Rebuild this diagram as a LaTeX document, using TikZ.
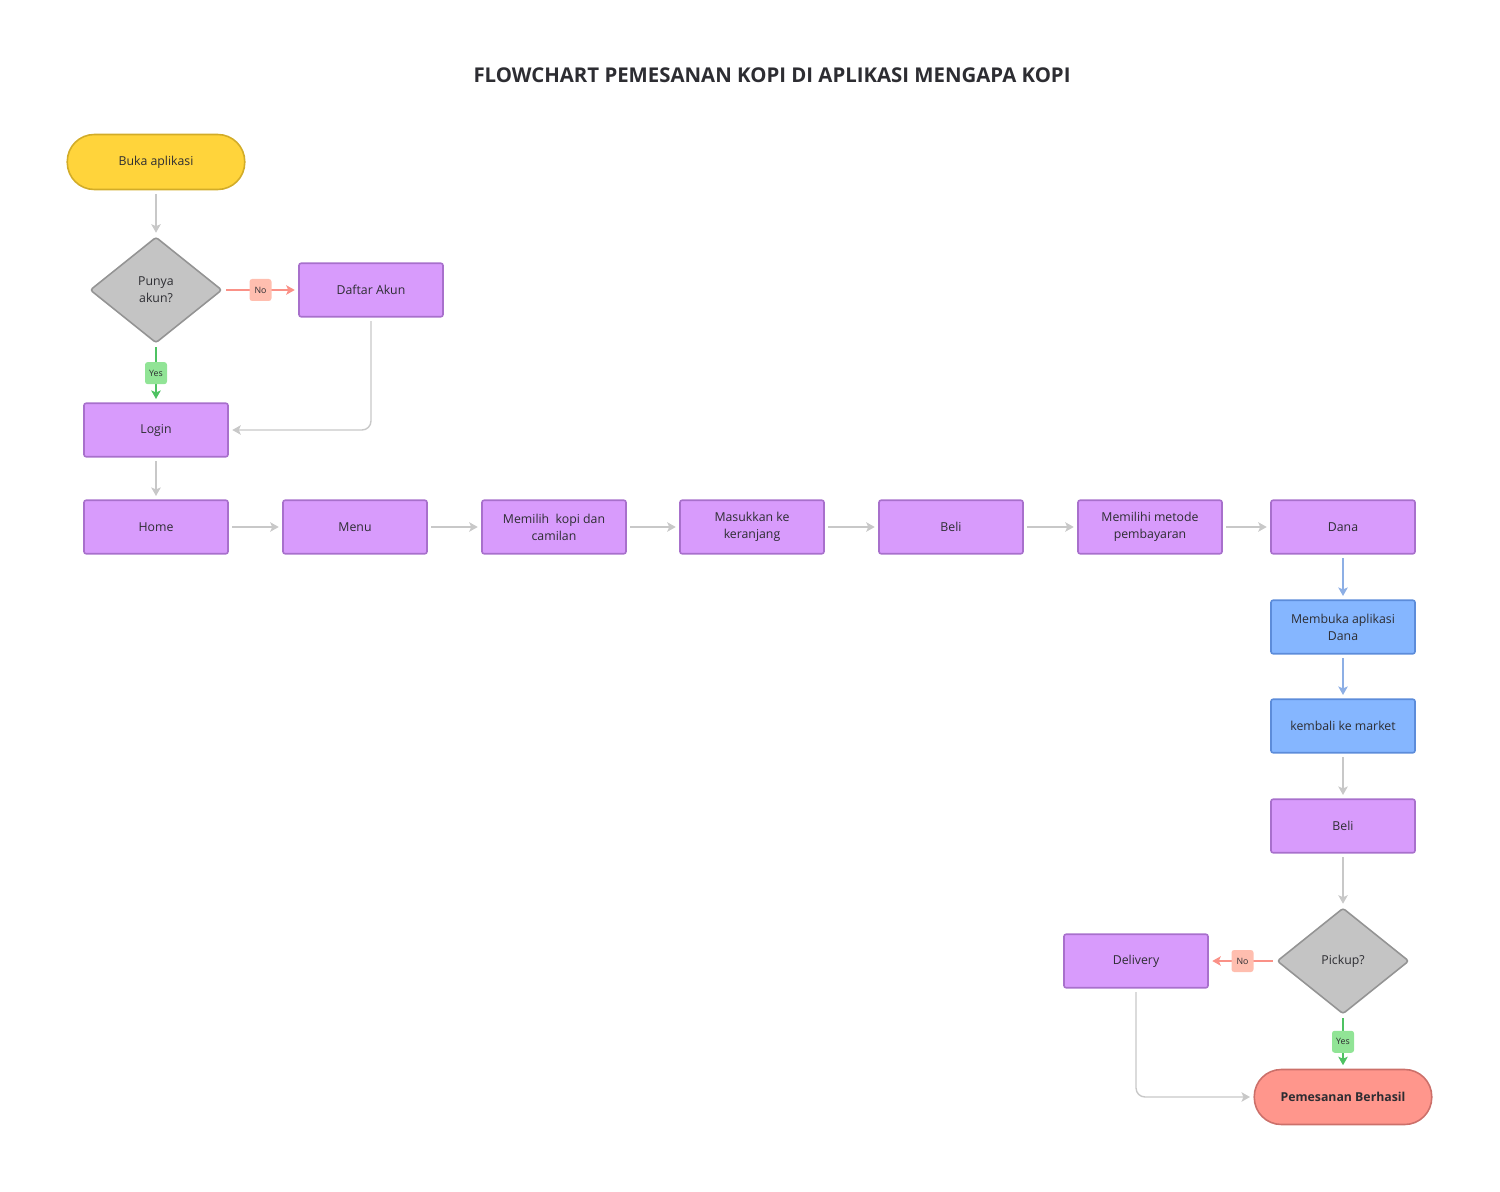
\documentclass[tikz,border=0pt]{standalone}
\usepackage{fontspec}
\setmainfont{Open Sans}
\usetikzlibrary{arrows.meta,positioning,shapes.geometric}
\definecolor{ink}{RGB}{45,45,50}
\definecolor{wire}{RGB}{200,200,200}
\definecolor{startfill}{RGB}{255,212,59}
\definecolor{startline}{RGB}{210,172,40}
\definecolor{stepfill}{RGB}{216,155,252}
\definecolor{stepline}{RGB}{168,112,204}
\definecolor{danafill}{RGB}{133,182,255}
\definecolor{danaline}{RGB}{92,140,218}
\definecolor{askfill}{RGB}{196,196,196}
\definecolor{askline}{RGB}{148,148,148}
\definecolor{endfill}{RGB}{255,150,140}
\definecolor{endline}{RGB}{204,112,106}
\definecolor{noline}{RGB}{250,145,135}
\definecolor{nofill}{RGB}{255,190,175}
\definecolor{yesline}{RGB}{78,194,98}
\definecolor{yesfill}{RGB}{145,228,150}

\begin{document}
\begin{tikzpicture}[x=0.02cm, y=-0.02cm,
  >={Stealth[length=1.7mm,width=1.9mm,inset=0.4mm]},
  font=\fontsize{7}{9.6}\selectfont, text=ink,
  stepbox/.style={draw=stepline, fill=stepfill, line width=0.9pt, rounded corners=1.2pt,
    minimum width=2.88cm, minimum height=1.07cm, align=center, inner sep=1pt},
  danabox/.style={stepbox, draw=danaline, fill=danafill},
  terminal/.style={draw=#1line, fill=#1fill, line width=0.9pt, rounded corners=0.54cm,
    minimum width=3.55cm, minimum height=1.1cm, align=center},
  decision/.style={diamond, draw=askline, fill=askfill, line width=0.9pt, rounded corners=1.5pt,
    minimum width=2.64cm, minimum height=2.12cm, inner sep=0pt, align=center},
  flow/.style={->, draw=wire, line width=0.8pt, shorten <=0.07cm, shorten >=0.07cm},
  noflow/.style={flow, draw=noline},
  yesflow/.style={flow, draw=yesline},
  tag/.style={fill=#1, rounded corners=1.5pt, font=\fontsize{5}{6}\selectfont,
    minimum width=0.44cm, minimum height=0.44cm, inner sep=1pt}]
\useasboundingbox (0,0) rectangle (1500,1192);

\node[font=\fontsize{11.6}{13}\selectfont\bfseries] (title) at (772,75)
  {FLOWCHART PEMESANAN KOPI DI APLIKASI MENGAPA KOPI};

% left column
\node[terminal=start] (buka) at (156,162) {Buka aplikasi};
\node[decision] (akun) at (156,290) {Punya\\akun?};
\node[stepbox] (daftar) at (371,290) {Daftar Akun};
\node[stepbox] (login) at (156,430) {Login};

% main row
\node[stepbox] (home) at (156,527) {Home};
\node[stepbox] (menu) at (355,527) {Menu};
\node[stepbox] (pilih) at (554,527) {Memilih\ \ kopi dan\\camilan};
\node[stepbox] (keranjang) at (752,527) {Masukkan ke\\keranjang};
\node[stepbox] (beli) at (951,527) {Beli};
\node[stepbox] (metode) at (1150,527) {Memilihi metode\\pembayaran};
\node[stepbox] (dana) at (1343,527) {Dana};

% right column
\node[danabox] (bukadana) at (1343,627) {Membuka aplikasi\\Dana};
\node[danabox] (kembali) at (1343,726) {kembali ke market};
\node[stepbox] (beli2) at (1343,826) {Beli};
\node[decision] (pickup) at (1343,961) {Pickup?};
\node[stepbox] (delivery) at (1136,961) {Delivery};
\node[terminal=end, font=\fontsize{7}{9.6}\selectfont\bfseries] (berhasil) at (1343,1097) {Pemesanan Berhasil};

% connectors
\draw[flow] (buka) -- (akun);
\draw[noflow] (akun) -- node[tag=nofill] {No} (daftar);
\draw[yesflow] (akun) -- node[tag=yesfill] {Yes} (login);
\draw[flow, rounded corners=0.18cm] (daftar) |- (login);
\draw[flow] (login) -- (home);
\draw[flow] (home) -- (menu);
\draw[flow] (menu) -- (pilih);
\draw[flow] (pilih) -- (keranjang);
\draw[flow] (keranjang) -- (beli);
\draw[flow] (beli) -- (metode);
\draw[flow] (metode) -- (dana);
\draw[flow, draw=danaline!70!white] (dana) -- (bukadana);
\draw[flow, draw=danaline!70!white] (bukadana) -- (kembali);
\draw[flow] (kembali) -- (beli2);
\draw[flow] (beli2) -- (pickup);
\draw[noflow] (pickup) -- node[tag=nofill] {No} (delivery);
\draw[yesflow] (pickup) -- node[tag=yesfill] {Yes} (berhasil);
\draw[flow, rounded corners=0.18cm] (delivery) |- (berhasil);
\end{tikzpicture}
\end{document}
